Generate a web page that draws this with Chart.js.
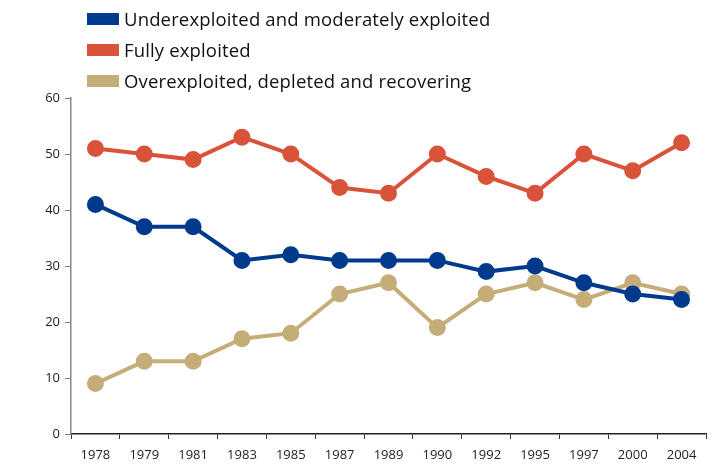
<!DOCTYPE html>
<html>
<head>
<meta charset="utf-8">
<script src="https://cdn.jsdelivr.net/npm/chart.js@4.4.1/dist/chart.umd.min.js"></script>
<style>
  html, body { margin: 0; padding: 0; background: #fff; }
  #wrap { position: relative; width: 721px; height: 466px; }
  #legend { position: absolute; left: 87px; top: 3px; font-family: "Open Sans", sans-serif; font-size: 18.5px; letter-spacing: 0.15px; color: #111; }
  .item { display: flex; align-items: center; height: 31px; white-space: nowrap; }
  .sw { width: 32px; height: 12px; margin-right: 5px; flex: none; }
</style>
</head>
<body>
<div id="wrap">
  <canvas id="c" width="721" height="466"></canvas>
  <div id="legend"></div>
</div>
<script>
const years = ["1978","1979","1981","1983","1985","1987","1989","1990","1992","1995","1997","2000","2004"];
const underexploited = [41, 37, 37, 31, 32, 31, 31, 31, 29, 30, 27, 25, 24];
const fullyExploited = [51, 50, 49, 53, 50, 44, 43, 50, 46, 43, 50, 47, 52];
const overexploited = [9, 13, 13, 17, 18, 25, 27, 19, 25, 27, 24, 27, 25];
const seriesNames = ["Underexploited and moderately exploited", "Fully exploited", "Overexploited, depleted and recovering"];
const seriesColors = ["#003a8c", "#d9533a", "#c4ad78"];
const yTicks = [0, 10, 20, 30, 40, 50, 60];

const seriesData = [underexploited, fullyExploited, overexploited];
const datasets = seriesData.map((d, i) => ({
  label: seriesNames[i],
  data: d,
  borderColor: seriesColors[i],
  backgroundColor: seriesColors[i],
  pointBackgroundColor: seriesColors[i],
  pointBorderColor: seriesColors[i],
  borderWidth: 4,
  pointRadius: 6.5,
  pointHoverRadius: 6.5,
  tension: 0,
  order: i
}));

const legend = document.getElementById('legend');
seriesNames.forEach((n, i) => {
  const it = document.createElement('div'); it.className = 'item';
  const sw = document.createElement('span'); sw.className = 'sw'; sw.style.background = seriesColors[i];
  const tx = document.createElement('span'); tx.textContent = n;
  it.appendChild(sw); it.appendChild(tx); legend.appendChild(it);
});

new Chart(document.getElementById('c'), {
  type: 'line',
  data: { labels: years, datasets },
  options: {
    responsive: false,
    animation: false,
    layout: { padding: { left: 0, top: 98, right: 15, bottom: 0 } },
    plugins: { legend: { display: false }, tooltip: { enabled: false } },
    scales: {
      x: {
        offset: true,
        grid: { display: true, drawOnChartArea: false, offset: true, tickLength: 5, color: '#333', lineWidth: 1 },
        border: { display: true, color: '#222', width: 1.5 },
        ticks: { color: '#222', font: { family: 'Open Sans', size: 13 }, padding: 8, maxRotation: 0, autoSkip: false },
        afterFit: s => { s.height = 32; }
      },
      y: {
        min: 0, max: 60,
        afterBuildTicks: s => { s.ticks = yTicks.map(v => ({ value: v })); },
        grid: { display: true, drawOnChartArea: false, tickLength: 6, color: '#777', lineWidth: 1 },
        border: { display: true, color: '#888', width: 1.5 },
        ticks: { color: '#222', font: { family: 'Open Sans', size: 13 }, padding: 5 },
        afterFit: s => { s.width = 71; }
      }
    }
  }
});
</script>
</body>
</html>
